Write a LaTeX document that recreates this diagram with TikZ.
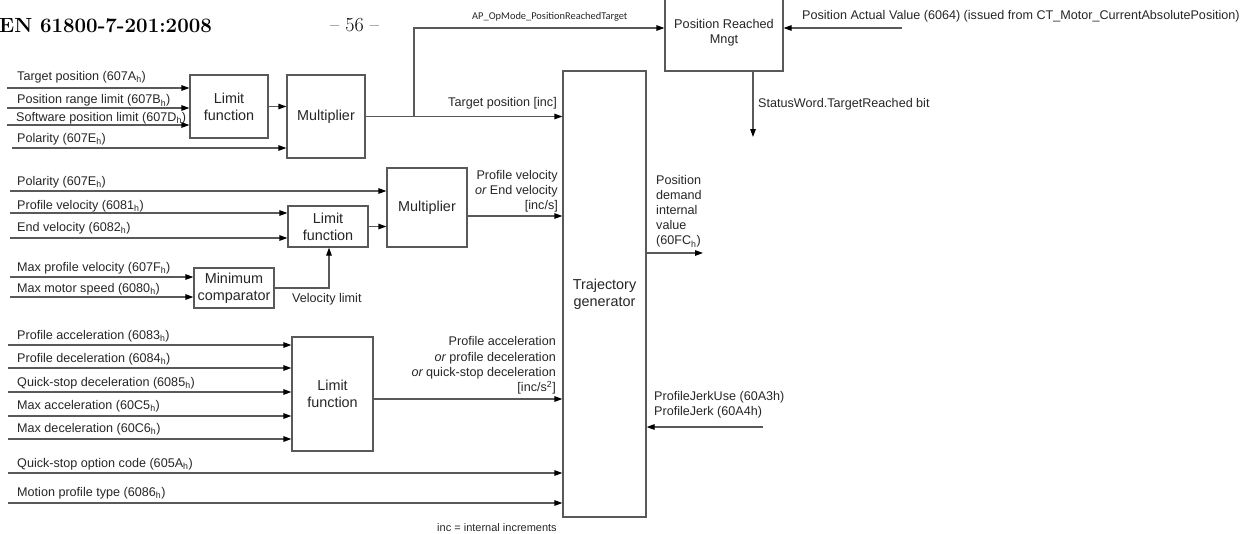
\documentclass[tikz,border=0pt]{standalone}
\usepackage{fontspec}
\newfontfamily\sansA{Liberation Sans}
\newfontfamily\calA{Carlito}
\usetikzlibrary{arrows.meta}
\begin{document}
\begin{tikzpicture}[x=1pt,y=-1pt,
  lc/.style={draw=black!65,line width=1.2pt},
  arr/.style={lc,-{Triangle[length=8pt,width=5.5pt,color=black]}},
  blk/.style={lc,fill=white,inner sep=0pt,align=center,text=black!85,font=\sansA\fontsize{14.4}{17}\selectfont},
  lbl/.style={inner sep=0pt,text=black!85,font=\sansA\fontsize{12.6}{14.6}\selectfont},
  hd/.style={inner sep=0pt,anchor=base west,text=black}
]
\useasboundingbox (0,0) rectangle (1249,533);

% header
\node[hd,font=\fontsize{20.5}{24}\selectfont\bfseries] (hdr) at (-1,32) {EN 61800-7-201:2008};
\node[hd,font=\fontsize{20}{24}\selectfont] (pg) at (330,31) {-- 56 --};

% blocks
\node[blk,minimum width=78pt,minimum height=63pt] (lf1) at (229,106.5) {Limit\\function};
\node[blk,minimum width=78pt,minimum height=83pt] (mul1) at (326,116.5) {Multiplier};
\node[blk,minimum width=118pt,minimum height=76pt,font=\sansA\fontsize{12.7}{15}\selectfont] (prm) at (724,33) {Position Reached\\Mngt};
\node[blk,minimum width=83pt,minimum height=446pt] (traj) at (604.5,294) {Trajectory\\generator};
\node[blk,minimum width=80pt,minimum height=41pt] (lf2) at (328,226.5) {Limit\\function};
\node[blk,minimum width=80pt,minimum height=79pt] (mul2) at (427,207.5) {Multiplier};
\node[blk,minimum width=80pt,minimum height=40pt] (minc) at (234,288) {Minimum\\comparator};
\node[blk,minimum width=81pt,minimum height=114pt] (lf3) at (332.5,394) {Limit\\function};

% input labels
\node[lbl,anchor=base west] (t1) at (17,80.3) {Target position (607A\textsubscript{h})};
\node[lbl,anchor=base west] (t2) at (17,103.8) {Position range limit (607B\textsubscript{h})};
\node[lbl,anchor=base west] (t3) at (16,121.3) {Software position limit (607D\textsubscript{h})};
\node[lbl,anchor=base west] (t4) at (17,142.3) {Polarity (607E\textsubscript{h})};
\node[lbl,anchor=base west] (t5) at (17,185.3) {Polarity (607E\textsubscript{h})};
\node[lbl,anchor=base west] (t6) at (17,209.3) {Profile velocity (6081\textsubscript{h})};
\node[lbl,anchor=base west] (t7) at (17,231.3) {End velocity (6082\textsubscript{h})};
\node[lbl,anchor=base west] (t8) at (17,271.3) {Max profile velocity (607F\textsubscript{h})};
\node[lbl,anchor=base west] (t9) at (17,292.3) {Max motor speed (6080\textsubscript{h})};
\node[lbl,anchor=base west] (t10) at (17,339.3) {Profile acceleration (6083\textsubscript{h})};
\node[lbl,anchor=base west] (t11) at (17,362.3) {Profile deceleration (6084\textsubscript{h})};
\node[lbl,anchor=base west] (t12) at (17,386.3) {Quick-stop deceleration (6085\textsubscript{h})};
\node[lbl,anchor=base west] (t13) at (17,409.3) {Max acceleration (60C5\textsubscript{h})};
\node[lbl,anchor=base west] (t14) at (17,432.3) {Max deceleration (60C6\textsubscript{h})};
\node[lbl,anchor=base west] (t15) at (17,467.3) {Quick-stop option code (605A\textsubscript{h})};
\node[lbl,anchor=base west] (t16) at (17,496.3) {Motion profile type (6086\textsubscript{h})};

% other labels
\node[lbl,anchor=base east] (tpinc) at (557,106.3) {Target position [inc]};
\node[lbl,anchor=north east,align=right] (pvl) at (558,170.5) {Profile velocity\\{\itshape or} End velocity\\{[inc/s]}};
\node[lbl,anchor=north west,align=left,font=\sansA\fontsize{12.6}{15}\selectfont] (pdi) at (656,175.5) {Position\\demand\\internal\\value\\(60FC\textsubscript{h})};
\node[lbl,anchor=north east,align=right,font=\sansA\fontsize{12.6}{15.3}\selectfont] (accl) at (556,336.5) {Profile acceleration\\{\itshape or} profile deceleration\\{\itshape or} quick-stop deceleration\\{[inc/s\textsuperscript{2}]}};
\node[lbl,anchor=north west,align=left,font=\sansA\fontsize{12.6}{15}\selectfont] (jerk) at (654,391.5) {ProfileJerkUse (60A3h)\\ProfileJerk (60A4h)};
\node[lbl,anchor=base west] (vlim) at (292,302.3) {Velocity limit};
\node[lbl,anchor=base west] (swl) at (758,107.3) {StatusWord.TargetReached bit};
\node[lbl,anchor=base west] (pavl) at (802,19.4) {Position Actual Value (6064) (issued from CT\_Motor\_CurrentAbsolutePosition)};
\node[lbl,anchor=base west,font=\calA\fontsize{10.4}{12}\selectfont] (apl) at (472,19.4) {AP\_OpMode\_PositionReachedTarget};
\node[lbl,anchor=base,font=\sansA\fontsize{11}{13}\selectfont] (incn) at (497,531) {inc = internal increments};

% free ends
\coordinate (i1) at (7,88);
\coordinate (i2) at (7,108);
\coordinate (i3) at (7,125);
\coordinate (i4) at (12,148);
\coordinate (i5) at (10,191);
\coordinate (i6) at (10,213);
\coordinate (i7) at (10,238);
\coordinate (i8) at (10,277);
\coordinate (i9) at (10,297);
\coordinate (i10) at (8,345);
\coordinate (i11) at (8,368);
\coordinate (i12) at (8,392);
\coordinate (i13) at (8,416);
\coordinate (i14) at (8,439);
\coordinate (i15) at (8,473);
\coordinate (i16) at (8,503);
\coordinate (br) at (414,116.5);
\coordinate (pav) at (902,28);
\coordinate (sw) at (753,137);
\coordinate (pout) at (703,253);
\coordinate (jk) at (763,427);

% connectors
\foreach \c in {i1,i2,i3} \draw[arr] (\c) -- (\c -| lf1.west);
\draw[arr] (i4) -- (i4 -| mul1.west);
\draw[arr] (lf1.east) -- (lf1.east -| mul1.west);
\draw[arr] (mul1.east) -- (mul1.east -| traj.west);
\draw[arr] (br) |- ([yshift=5pt]prm.west);
\draw[arr] (pav) -- (pav -| prm.east);
\draw[arr] (sw |- prm.south) -- (sw);
\draw[arr] (i5) -- (i5 -| mul2.west);
\foreach \c in {i6,i7} \draw[arr] (\c) -- (\c -| lf2.west);
\draw[arr] (lf2.east) -- (lf2.east -| mul2.west);
\draw[arr] ([yshift=-8.5pt]mul2.east) -- ([yshift=-8.5pt]mul2.east -| traj.west);
\foreach \c in {i8,i9} \draw[arr] (\c) -- (\c -| minc.west);
\draw[arr] (minc.east) -| ([xshift=1pt]lf2.south);
\foreach \c in {i10,i11,i12,i13,i14} \draw[arr] (\c) -- (\c -| lf3.west);
\draw[arr] ([yshift=-5pt]lf3.east) -- ([yshift=-5pt]lf3.east -| traj.west);
\foreach \c in {i15,i16} \draw[arr] (\c) -- (\c -| traj.west);
\draw[arr] (pout -| traj.east) -- (pout);
\draw[arr] (jk) -- (jk -| traj.east);
\end{tikzpicture}
\end{document}
